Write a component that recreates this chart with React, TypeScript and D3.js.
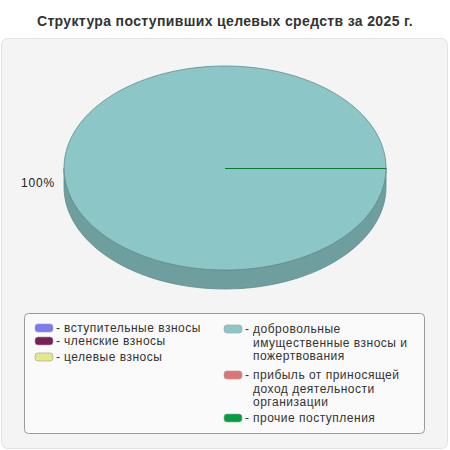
import React, { useEffect, useRef } from "react";
import * as d3 from "d3";

const title = "Структура поступивших целевых средств за 2025 г.";
const categories = [
  "вступительные взносы",
  "членские взносы",
  "целевые взносы",
  "добровольные имущественные взносы и пожертвования",
  "прибыль от приносящей доход деятельности организации",
  "прочие поступления",
];
const values = [0, 0, 0, 100, 0, 0];
const colors = ["#7b7bef", "#7a1f5a", "#e6e68c", "#8cc6c6", "#e07474", "#00a040"];
const sideColors = ["#5c5cb3", "#5b1743", "#acac69", "#6f9e9e", "#a85757", "#087a2c"];
const legendLeft = [
  ["вступительные взносы"],
  ["членские взносы"],
  ["целевые взносы"],
];
const legendRight = [
  ["добровольные", "имущественные взносы и", "пожертвования"],
  ["прибыль от приносящей", "доход деятельности", "организации"],
  ["прочие поступления"],
];

export default function App() {
  const ref = useRef<SVGSVGElement>(null);
  useEffect(() => {
    const svg = d3.select(ref.current);
    svg.selectAll("*").remove();
    const W = 450, H = 450;
    const font = "'Liberation Sans', Arial, sans-serif";

    svg.append("rect").attr("width", W).attr("height", H).attr("fill", "#ffffff");
    svg.append("text").attr("x", 225).attr("y", 26).attr("text-anchor", "middle")
      .attr("font-family", font).attr("font-size", 14).attr("font-weight", "bold")
      .attr("letter-spacing", 0.35).attr("fill", "#333").text(title);

    svg.append("rect").attr("x", 1.5).attr("y", 38.5).attr("width", 446).attr("height", 410)
      .attr("rx", 6).attr("fill", "#f4f4f4").attr("stroke", "#e2e2e2");

    const cx = 225, cy = 168, rx = 161, ry = 102, depth = 19;
    const pie = d3.pie<number>().sort(null).startAngle(Math.PI / 2).endAngle(Math.PI / 2 + 2 * Math.PI);
    const arcs = pie(values);
    const px = (a: number) => cx + rx * Math.sin(a);
    const py = (a: number) => cy - ry * Math.cos(a);

    const g = svg.append("g");
    // side (front half)
    arcs.forEach((a, i) => {
      if (a.endAngle - a.startAngle <= 0) return;
      const s = Math.max(a.startAngle, Math.PI / 2);
      const e = Math.min(a.endAngle, Math.PI * 1.5);
      if (e <= s) return;
      const p = d3.path();
      p.moveTo(px(s), py(s));
      const n = 60;
      for (let k = 1; k <= n; k++) { const t = s + (e - s) * k / n; p.lineTo(px(t), py(t)); }
      for (let k = n; k >= 0; k--) { const t = s + (e - s) * k / n; p.lineTo(px(t), py(t) + depth); }
      p.closePath();
      g.append("path").attr("d", p.toString()).attr("fill", sideColors[i])
        .attr("stroke", "#5f8c8c").attr("stroke-width", 0.8);
    });
    // top
    arcs.forEach((a, i) => {
      if (a.endAngle - a.startAngle <= 0) return;
      const p = d3.path();
      const s = a.startAngle, e = a.endAngle;
      const full = e - s >= 2 * Math.PI - 1e-6;
      if (!full) p.moveTo(cx, cy), p.lineTo(px(s), py(s)); else p.moveTo(px(s), py(s));
      const n = 180;
      for (let k = 1; k <= n; k++) { const t = s + (e - s) * k / n; p.lineTo(px(t), py(t)); }
      p.closePath();
      g.append("path").attr("d", p.toString()).attr("fill", colors[i])
        .attr("stroke", "#5f8c8c").attr("stroke-width", 0.8);
    });
    // zero slices as lines
    arcs.forEach((a, i) => {
      if (a.endAngle - a.startAngle > 0) return;
      g.append("line").attr("x1", cx).attr("y1", cy + 0.5).attr("x2", px(a.startAngle)).attr("y2", py(a.startAngle) + 0.5)
        .attr("stroke", sideColors[i]).attr("stroke-width", 1).attr("shape-rendering", "crispEdges");
    });
    // labels
    const total = d3.sum(values);
    arcs.forEach((a) => {
      if (a.value <= 0) return;
      const m = (a.startAngle + a.endAngle) / 2;
      const lx = px(m) - 9, ly = py(m) + 19;
      svg.append("text").attr("x", lx).attr("y", ly).attr("text-anchor", "end")
        .attr("font-family", font).attr("font-size", 12).attr("letter-spacing", 0.8).attr("fill", "#222")
        .text(`${Math.round((a.value / total) * 100)}%`);
    });

    // legend
    svg.append("rect").attr("x", 24.5).attr("y", 313.5).attr("width", 400).attr("height", 120)
      .attr("rx", 4).attr("fill", "#fafafa").attr("stroke", "#9a9a9a");
    const drawItem = (x: number, y: number, ci: number, lines: string[]) => {
      svg.append("rect").attr("x", x).attr("y", y - 4).attr("width", 18).attr("height", 8).attr("rx", 3)
        .attr("fill", colors[ci]).attr("stroke", "#a0a0a0").attr("stroke-width", 0.6);
      svg.append("text").attr("x", x + 21).attr("y", y + 4).attr("font-family", font)
        .attr("font-size", 12).attr("fill", "#333").text("-");
      lines.forEach((l, k) => {
        svg.append("text").attr("x", x + 29).attr("y", y + 4 + k * 13.5).attr("font-family", font)
          .attr("font-size", 12).attr("letter-spacing", 0.5).attr("fill", "#333").text(l);
      });
    };
    const leftY = [328, 341, 357];
    legendLeft.forEach((lines, k) => drawItem(35, leftY[k], k, lines));
    const rightY = [329, 375, 418];
    legendRight.forEach((lines, k) => drawItem(224, rightY[k], k + 3, lines));
  }, []);
  return (
    <div style={{ position: "absolute", left: 0, top: 0 }}>
      <svg ref={ref} width={450} height={450} />
    </div>
  );
}
